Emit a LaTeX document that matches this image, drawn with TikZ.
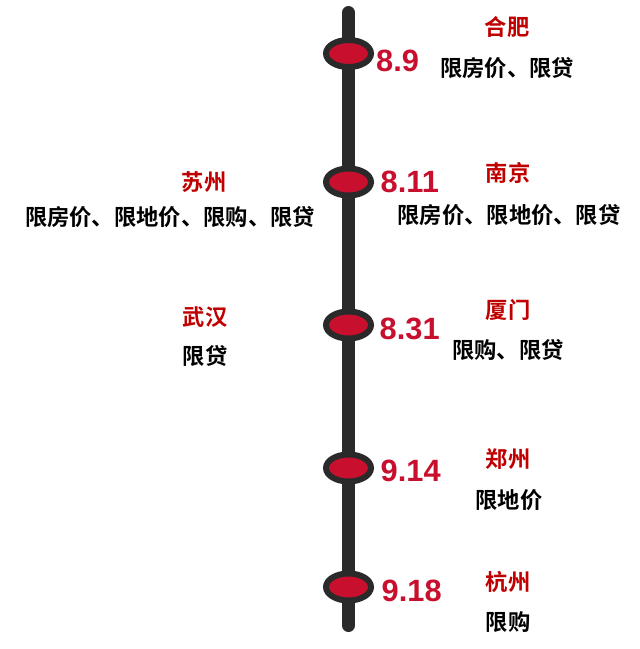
\documentclass[tikz,border=0pt]{standalone}
\usepackage{fontspec}
\usetikzlibrary{shapes.geometric}
\newfontfamily\cjk{Noto Sans CJK SC}[BoldFont={* Bold}]
\newfontfamily\numfont{Liberation Sans}
\definecolor{lineDark}{HTML}{2A2A2A}
\definecolor{dotRed}{HTML}{C8102E}
\definecolor{headRed}{HTML}{C00000}
\begin{document}
\begin{tikzpicture}[x=1pt,y=-1pt,
  dotmark/.style={ellipse, draw=lineDark, line width=6pt, fill=dotRed, minimum width=45pt, minimum height=27pt, inner sep=0pt},
  datelbl/.style={anchor=west, inner sep=0pt, text=dotRed, font=\numfont\bfseries\fontsize{30.8}{31}\selectfont},
  cityname/.style={inner sep=0pt, text=headRed, font=\cjk\bfseries\fontsize{22.3}{23}\selectfont},
  policy/.style={inner sep=0pt, text=black, font=\cjk\bfseries\fontsize{22.3}{23}\selectfont}]
\useasboundingbox (0,0) rectangle (640,649);
\coordinate (top) at (348.5,12.5);
\coordinate (bot) at (348.5,625.5);
\draw[lineDark, line width=13pt, line cap=round] (top) -- (bot);
% markers
\node[dotmark] (d1) at (348.5,53.5) {};
\node[dotmark] (d2) at (348.5,182) {};
\node[dotmark] (d3) at (348.5,325) {};
\node[dotmark] (d4) at (348.5,468) {};
\node[dotmark] (d5) at (348.5,587) {};
% dates
\node[datelbl] (t1) at (376,61) {8.9};
\node[datelbl] (t2) at (380.5,182) {8.11};
\node[datelbl] (t3) at (379.5,329) {8.31};
\node[datelbl] (t4) at (380.5,471) {9.14};
\node[datelbl] (t5) at (381.5,591) {9.18};
% right side
\node[cityname] (c1) at (507,27) {合肥};
\node[policy] (p1) at (507,68) {限房价、限贷};
\node[cityname] (c2) at (508,173) {南京};
\node[policy] (p2) at (509,215) {限房价、限地价、限贷};
\node[cityname] (c3) at (508,310) {厦门};
\node[policy] (p3) at (508,350) {限购、限贷};
\node[cityname] (c4) at (508,459) {郑州};
\node[policy] (p4) at (509,500) {限地价};
\node[cityname] (c5) at (508,582) {杭州};
\node[policy] (p5) at (508,622) {限购};
% left side
\node[cityname] (c6) at (204,182) {苏州};
\node[policy] (p6) at (170,217) {限房价、限地价、限购、限贷};
\node[cityname] (c7) at (205,317) {武汉};
\node[policy] (p7) at (205,356) {限贷};
\end{tikzpicture}
\end{document}
